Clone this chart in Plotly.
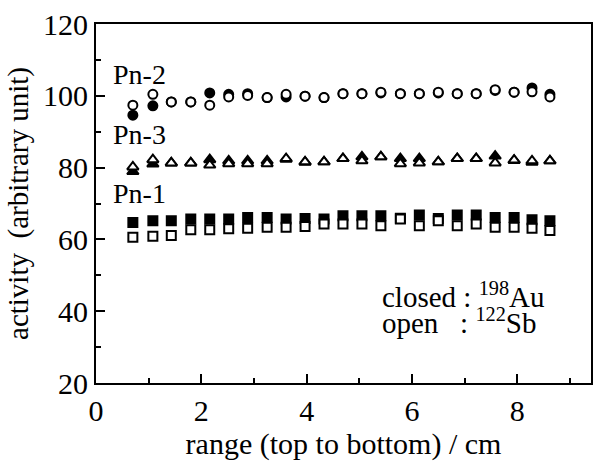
import plotly.graph_objects as go

# positions along range (cm)
x_pos = [0.70, 1.08, 1.43, 1.80, 2.16, 2.52, 2.88, 3.25, 3.61, 3.97, 4.33, 4.69,
         5.05, 5.41, 5.78, 6.14, 6.50, 6.86, 7.22, 7.58, 7.94, 8.28, 8.62]

pn2_closed = [94.6, 97.2, 98.3, 98.3, 100.8, 100.4, 100.6, 99.5, 99.7, 99.9, 99.5, 100.6,
              100.6, 100.8, 100.6, 100.6, 100.8, 100.6, 100.6, 101.5, 101.0, 102.2, 100.4]
pn2_open = [97.4, 100.4, 98.3, 98.3, 97.4, 99.7, 100.1, 99.5, 100.4, 99.9, 99.5, 100.6,
            100.6, 101.0, 100.6, 100.6, 101.0, 100.6, 100.6, 101.7, 101.0, 101.1, 99.7]

pn3_closed = [78.9, 81.0, 81.3, 81.3, 82.2, 81.9, 81.9, 81.9, 82.3, 81.5, 81.6, 82.5,
              83.0, 83.0, 82.5, 82.5, 81.6, 82.5, 82.5, 83.2, 82.0, 81.5, 81.9]
pn3_open = [80.2, 82.2, 81.3, 81.3, 80.7, 81.1, 81.1, 81.1, 82.5, 81.6, 81.6, 82.5,
            81.9, 83.0, 81.1, 81.3, 81.6, 82.5, 82.5, 81.3, 82.1, 81.9, 81.9]

pn1_closed = [64.7, 65.2, 65.2, 65.7, 65.7, 65.7, 66.1, 66.1, 65.7, 65.8, 65.7, 66.6,
              66.6, 66.6, 65.9, 66.8, 65.8, 66.8, 66.8, 66.1, 66.1, 65.5, 65.2]
pn1_open = [60.6, 60.9, 61.1, 62.7, 62.7, 63.0, 63.1, 63.4, 63.4, 63.6, 64.3, 64.3,
            64.3, 63.8, 65.7, 63.8, 65.2, 63.8, 64.3, 63.4, 63.4, 63.1, 62.5]

series_labels = ["Pn-2", "Pn-3", "Pn-1"]
key_lines = ["closed : <sup>198</sup>Au", "open\u00a0\u00a0\u00a0: <sup>122</sup>Sb"]

FONT = "Liberation Serif"

fig = go.Figure()

def add(y, symbol, filled, size):
    fig.add_trace(go.Scatter(
        x=x_pos, y=y, mode="markers", showlegend=False,
        marker=dict(symbol=symbol, size=size,
                    color="black" if filled else "white",
                    line=dict(color="black", width=2)),
        cliponaxis=False))

# closed first, open (white-filled) on top
add(pn2_closed, "circle", True, 9)
add(pn3_closed, "triangle-up", True, 10)
add(pn1_closed, "square", True, 9)
add(pn2_open, "circle", False, 9)
add(pn3_open, "triangle-up", False, 10)
add(pn1_open, "square", False, 9)

ann_font = dict(family=FONT, size=28, color="black")
for txt, yv in zip(series_labels, [106.0, 89.3, 72.8]):
    fig.add_annotation(x=0.29, y=yv, text=txt, showarrow=False,
                       xanchor="left", yanchor="middle", font=ann_font)

key_font = dict(family=FONT, size=29, color="black")
for txt, yv in zip(key_lines, [44.6, 37.4]):
    fig.add_annotation(x=5.42, y=yv, text=txt, showarrow=False, borderpad=0,
                       xanchor="left", yanchor="middle", align="left", font=key_font)

axis_common = dict(showgrid=False, zeroline=False, showline=True, linecolor="black",
                   linewidth=2, mirror=True, ticks="inside", ticklen=9, tickwidth=1.5,
                   tickcolor="black", tickfont=dict(family=FONT, size=30, color="black"))

fig.update_xaxes(range=[0, 9.4], dtick=2, tick0=0,
                 minor=dict(dtick=1, ticks="inside", ticklen=5, tickcolor="black", tickwidth=1.5),
                 title=dict(text="range (top to bottom) / cm", standoff=6,
                            font=dict(family=FONT, size=30, color="black")),
                 **axis_common)
fig.update_yaxes(range=[20, 120], dtick=20, tick0=20,
                 minor=dict(dtick=10, ticks="inside", ticklen=5, tickcolor="black", tickwidth=1.5),
                 title=dict(text="activity\u00a0\u00a0(arbitrary unit)", standoff=6,
                            font=dict(family=FONT, size=29, color="black")),
                 **axis_common)

fig.update_layout(width=600, height=461, margin=dict(l=96, r=7, t=20, b=76),
                  plot_bgcolor="white", paper_bgcolor="white",
                  font=dict(family=FONT, color="black"))

fig.write_html("out.html")
